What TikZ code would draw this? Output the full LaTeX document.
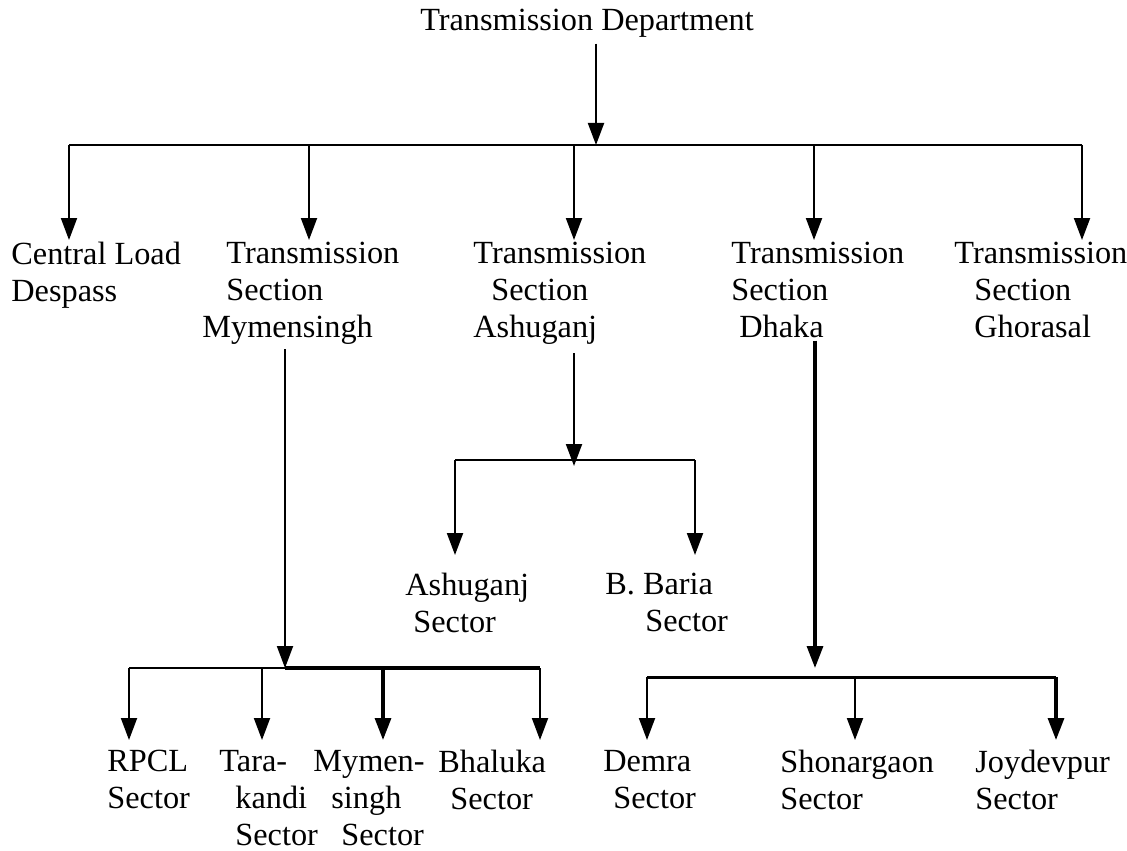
\documentclass[tikz,border=0pt]{standalone}
\usepackage{fontspec}
\setmainfont{Liberation Serif}
\usetikzlibrary{arrows.meta}

\tikzset{
  unit/.style={inner xsep=0pt, inner ysep=1pt, align=left, anchor=north west,
    font=\fontsize{16.15}{18.5}\selectfont},
  link/.style={line width=1pt, -{Triangle[width=8pt,length=11pt]}},
  bus/.style={line width=1pt},
}

\begin{document}
\begin{tikzpicture}[x=0.5pt,y=-0.5pt]
  \useasboundingbox (0,0) rectangle (1127,850);
  \node[unit,anchor=center] (dept) at (587,23) {Transmission Department};

  \node[unit] (cld) at (11,240) {Central Load\\Despass};
  \node[unit] (tsm) at (226,240) {Transmission\\Section\\\hspace*{-12pt}Mymensingh};
  \node[unit] (tsa) at (473,240) {Transmission\\\hspace*{9pt}Section\\Ashuganj};
  \node[unit] (tsd) at (731,240) {Transmission\\Section\\\hspace*{4pt}Dhaka};
  \node[unit] (tsg) at (954,240) {Transmission\\\hspace*{10pt}Section\\\hspace*{10pt}Ghorasal};

  \node[unit] (ash) at (405,571) {Ashuganj\\\hspace*{4pt}Sector};
  \node[unit] (bba) at (605,571) {B. Baria\\\hspace*{20pt}Sector};

  \node[unit] (rpcl) at (107,748) {RPCL\\Sector};
  \node[unit] (tara) at (219,748) {Tara-\\\hspace*{8pt}kandi\\\hspace*{8pt}Sector};
  \node[unit] (mym) at (313,748) {Mymen-\\\hspace*{9pt}singh\\\hspace*{14pt}Sector};
  \node[unit] (bhal) at (438,748) {Bhaluka\\\hspace*{6pt}Sector};
  \node[unit] (dem) at (603,748) {Demra\\\hspace*{5pt}Sector};
  \node[unit] (sho) at (780,748) {Shonargaon\\Sector};
  \node[unit] (joy) at (975,748) {Joydevpur\\Sector};

  \coordinate (t0) at (596,145);
  \coordinate (j1) at (69,145);
  \coordinate (j2) at (309,145);
  \coordinate (j3) at (574,145);
  \coordinate (j4) at (814,145);
  \coordinate (j5) at (1082,145);
  \draw[link,shorten <=2pt] (dept.south -| t0) -- (t0);
  \draw[bus] (j1) -- (j5);
  \draw[link] (j1) -- (j1 |- cld.north);
  \draw[link] (j2) -- (j2 |- tsm.north);
  \draw[link] (j3) -- (j3 |- tsa.north);
  \draw[link] (j4) -- (j4 |- tsd.north);
  \draw[link] (j5) -- (j5 |- tsg.north);

  \coordinate (a0) at (574,466);
  \coordinate (a1) at (455,460);
  \coordinate (a2) at (695,460);
  \draw[link,shorten <=3pt] (tsa.south -| a0) -- (a0);
  \draw[bus] (a1) -- (a2);
  \draw[link,shorten >=8pt] (a1) -- (a1 |- ash.north);
  \draw[link,shorten >=8pt] (a2) -- (a2 |- bba.north);

  \coordinate (m0) at (285,668);
  \coordinate (m1) at (129,668);
  \coordinate (m2) at (262,668);
  \coordinate (m3) at (383,668);
  \coordinate (m4) at (540,668);
  \draw[link,shorten <=1pt] (tsm.south -| m0) -- (m0);
  \draw[bus] (m1) -- (m0);
  \draw[bus,line width=2pt] (m0) -- (m4);
  \draw[link,shorten >=4pt] (m1) -- (m1 |- rpcl.north);
  \draw[link,shorten >=4pt] (m2) -- (m2 |- tara.north);
  \draw[link,line width=1.6pt,shorten >=4pt] (m3) -- (m3 |- mym.north);
  \draw[link,shorten >=4pt] (m4) -- (m4 |- bhal.north);

  \coordinate (d0) at (815,668);
  \coordinate (d1) at (647,677);
  \coordinate (d2) at (855,677);
  \coordinate (d3) at (1056,677);
  \draw[link,line width=1.6pt] (tsd.south -| d0) -- (d0);
  \draw[bus,line width=1.5pt] (d1) -- (d3);
  \draw[link,shorten >=4pt] (d1) -- (d1 |- dem.north);
  \draw[link,shorten >=4pt] (d2) -- (d2 |- sho.north);
  \draw[link,line width=1.6pt,shorten >=4pt] (d3) -- (d3 |- joy.north);
\end{tikzpicture}
\end{document}
